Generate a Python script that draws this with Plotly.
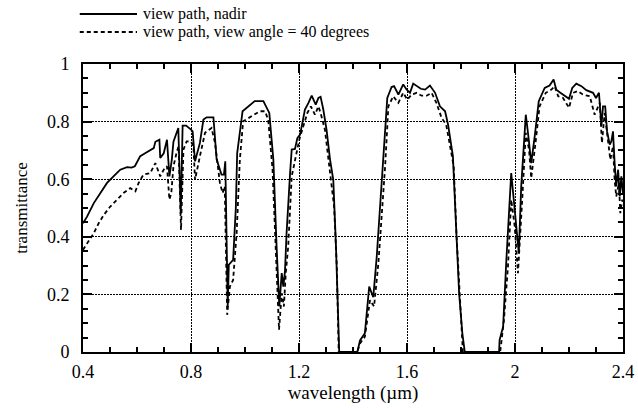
'''
transmittance spectra, nadir vs 40 degree view path
'''

import plotly.graph_objects as go

wl_nadir = [0.400, 0.415, 0.440, 0.464, 0.489, 0.513, 0.538, 0.563, 0.580, 0.592,
            0.612, 0.630, 0.650, 0.662, 0.668, 0.683, 0.686, 0.699, 0.711, 0.720,
            0.729, 0.735, 0.753, 0.762, 0.769, 0.782, 0.800, 0.806, 0.815, 0.833,
            0.846, 0.858, 0.883, 0.895, 0.913, 0.922, 0.927, 0.936, 0.940, 0.956,
            0.966, 0.971, 0.991, 1.012, 1.036, 1.055, 1.068, 1.090, 1.105, 1.117,
            1.127, 1.136, 1.142, 1.148, 1.154, 1.167, 1.173, 1.185, 1.194, 1.204,
            1.222, 1.235, 1.247, 1.262, 1.272, 1.280, 1.290, 1.302, 1.315, 1.327,
            1.337, 1.349, 1.380, 1.416, 1.426, 1.444, 1.460, 1.475, 1.488, 1.500,
            1.512, 1.527, 1.543, 1.552, 1.568, 1.586, 1.599, 1.611, 1.623, 1.636,
            1.651, 1.667, 1.685, 1.704, 1.722, 1.741, 1.752, 1.770, 1.783, 1.793,
            1.805, 1.814, 1.880, 1.941, 1.943, 1.956, 1.968, 1.986, 1.999, 2.014,
            2.023, 2.040, 2.051, 2.060, 2.073, 2.088, 2.110, 2.128, 2.143, 2.153,
            2.168, 2.184, 2.200, 2.212, 2.227, 2.246, 2.264, 2.289, 2.300, 2.311,
            2.320, 2.326, 2.334, 2.341, 2.351, 2.357, 2.363, 2.369, 2.375, 2.382,
            2.388, 2.394, 2.400]
tr_nadir = [0.447, 0.470, 0.517, 0.550, 0.587, 0.610, 0.633, 0.642, 0.640, 0.645,
            0.680, 0.690, 0.703, 0.708, 0.730, 0.737, 0.674, 0.690, 0.737, 0.610,
            0.668, 0.730, 0.778, 0.480, 0.786, 0.786, 0.772, 0.766, 0.662, 0.726,
            0.807, 0.815, 0.815, 0.668, 0.616, 0.616, 0.662, 0.158, 0.303, 0.320,
            0.500, 0.690, 0.836, 0.853, 0.871, 0.871, 0.871, 0.830, 0.668, 0.366,
            0.158, 0.274, 0.227, 0.280, 0.413, 0.621, 0.703, 0.705, 0.743, 0.755,
            0.842, 0.865, 0.890, 0.859, 0.882, 0.886, 0.842, 0.772, 0.668, 0.598,
            0.366, 0.0, 0.0, 0.0, 0.040, 0.065, 0.227, 0.190, 0.332, 0.494,
            0.668, 0.882, 0.920, 0.923, 0.894, 0.929, 0.911, 0.900, 0.932, 0.925,
            0.914, 0.911, 0.925, 0.900, 0.853, 0.836, 0.790, 0.680, 0.436, 0.204,
            0.065, 0.0, 0.0, 0.0, 0.042, 0.088, 0.320, 0.621, 0.494, 0.343,
            0.575, 0.824, 0.737, 0.656, 0.749, 0.871, 0.917, 0.925, 0.946, 0.911,
            0.900, 0.888, 0.879, 0.917, 0.932, 0.923, 0.909, 0.900, 0.882, 0.900,
            0.784, 0.853, 0.853, 0.766, 0.720, 0.732, 0.766, 0.656, 0.575, 0.633,
            0.540, 0.610, 0.550]

wl_40 = [0.400, 0.421, 0.440, 0.458, 0.477, 0.501, 0.526, 0.550, 0.575, 0.594,
         0.606, 0.624, 0.649, 0.668, 0.686, 0.699, 0.711, 0.720, 0.727, 0.735,
         0.748, 0.754, 0.763, 0.772, 0.784, 0.800, 0.809, 0.815, 0.833, 0.852,
         0.876, 0.889, 0.907, 0.917, 0.925, 0.934, 0.944, 0.956, 0.969, 0.981,
         0.993, 1.018, 1.043, 1.055, 1.074, 1.086, 1.102, 1.114, 1.126, 1.136,
         1.144, 1.151, 1.160, 1.173, 1.185, 1.201, 1.216, 1.231, 1.244, 1.259,
         1.272, 1.280, 1.296, 1.315, 1.330, 1.340, 1.347, 1.380, 1.416, 1.426,
         1.444, 1.463, 1.478, 1.494, 1.506, 1.519, 1.531, 1.549, 1.568, 1.586,
         1.601, 1.617, 1.636, 1.654, 1.673, 1.691, 1.709, 1.728, 1.745, 1.758,
         1.773, 1.783, 1.796, 1.807, 1.880, 1.945, 1.949, 1.959, 1.974, 1.986,
         1.999, 2.011, 2.026, 2.040, 2.052, 2.060, 2.076, 2.091, 2.114, 2.135,
         2.147, 2.160, 2.178, 2.200, 2.215, 2.233, 2.251, 2.277, 2.295, 2.314,
         2.322, 2.332, 2.344, 2.353, 2.363, 2.369, 2.375, 2.385, 2.390, 2.397,
         2.400]
tr_40 = [0.355, 0.384, 0.413, 0.447, 0.476, 0.505, 0.529, 0.552, 0.569, 0.558,
         0.587, 0.616, 0.621, 0.656, 0.610, 0.633, 0.645, 0.529, 0.552, 0.645,
         0.697, 0.714, 0.424, 0.703, 0.731, 0.731, 0.714, 0.598, 0.680, 0.761,
         0.778, 0.726, 0.587, 0.552, 0.575, 0.129, 0.227, 0.250, 0.413, 0.668,
         0.801, 0.815, 0.830, 0.836, 0.836, 0.807, 0.633, 0.320, 0.077, 0.204,
         0.158, 0.274, 0.366, 0.610, 0.668, 0.737, 0.784, 0.830, 0.853, 0.824,
         0.853, 0.830, 0.772, 0.633, 0.505, 0.297, 0.0, 0.0, 0.0, 0.030,
         0.053, 0.180, 0.158, 0.308, 0.470, 0.645, 0.853, 0.888, 0.865, 0.900,
         0.876, 0.894, 0.900, 0.890, 0.890, 0.900, 0.865, 0.813, 0.790, 0.720,
         0.645, 0.413, 0.169, 0.0, 0.0, 0.0, 0.030, 0.110, 0.297, 0.529,
         0.436, 0.274, 0.517, 0.761, 0.703, 0.604, 0.726, 0.853, 0.900, 0.911,
         0.923, 0.888, 0.882, 0.848, 0.900, 0.906, 0.894, 0.888, 0.824, 0.865,
         0.726, 0.830, 0.737, 0.668, 0.714, 0.598, 0.540, 0.587, 0.482, 0.529,
         0.517]

names = ["view path, nadir", "view path, view angle = 40 degrees"]

FONT = "Liberation Serif"

fig = go.Figure()
fig.add_trace(go.Scatter(x=wl_nadir, y=tr_nadir, mode='lines', name=names[0],
                         line=dict(color='black', width=1.8)))
fig.add_trace(go.Scatter(x=wl_40, y=tr_40, mode='lines', name=names[1],
                         line=dict(color='black', width=1.8, dash='4px,3px')))

# hand-made legend above the plot, no box
for i, dash in enumerate(['solid', '4px,3px']):
    yy = 1.174 - i * 0.063
    fig.add_shape(type='line', xref='paper', yref='paper',
                  x0=-0.006, x1=0.100, y0=yy, y1=yy,
                  line=dict(color='black', width=2, dash=dash))
    fig.add_annotation(xref='paper', yref='paper', x=0.108, y=yy,
                       text=names[i], showarrow=False, xanchor='left',
                       yanchor='middle',
                       font=dict(family=FONT, size=16, color='black'))

axis_style = dict(
    showline=True, linecolor='black', linewidth=2, mirror='allticks',
    ticks='inside', ticklen=9, tickwidth=1.5, tickcolor='black',
    showgrid=True, gridcolor='black', gridwidth=1.2, griddash='1.5px,1.5px',
    zeroline=False, automargin=False,
    tickfont=dict(family=FONT, size=18, color='black'),
)

fig.update_xaxes(range=[0.4, 2.4], tick0=0.4, dtick=0.4,
                 minor=dict(dtick=0.1, ticks='inside', ticklen=5, tickwidth=1.5,
                            tickcolor='black', showgrid=False),
                 ticklabelstandoff=2,
                 title=dict(text='wavelength (\u00b5m)', standoff=4,
                            font=dict(family=FONT, size=19, color='black')),
                 **axis_style)
fig.update_yaxes(range=[0, 1], tick0=0, dtick=0.2,
                 minor=dict(dtick=0.05, ticks='inside', ticklen=5, tickwidth=1.5,
                            tickcolor='black', showgrid=False),
                 ticklabelstandoff=8,
                 title=dict(text='transmittance', standoff=15,
                            font=dict(family=FONT, size=17, color='black')),
                 **axis_style)

fig.update_layout(
    width=638, height=408,
    margin=dict(l=83, r=15, t=64, b=56),
    plot_bgcolor='white', paper_bgcolor='white',
    font=dict(family=FONT, color='black'),
    showlegend=False,
)

# the page body has an 8px default margin; drop it so the figure sits at 0,0
fig.write_html("out.html", config={'displayModeBar': False},
               post_script="document.body.style.margin='0';")
